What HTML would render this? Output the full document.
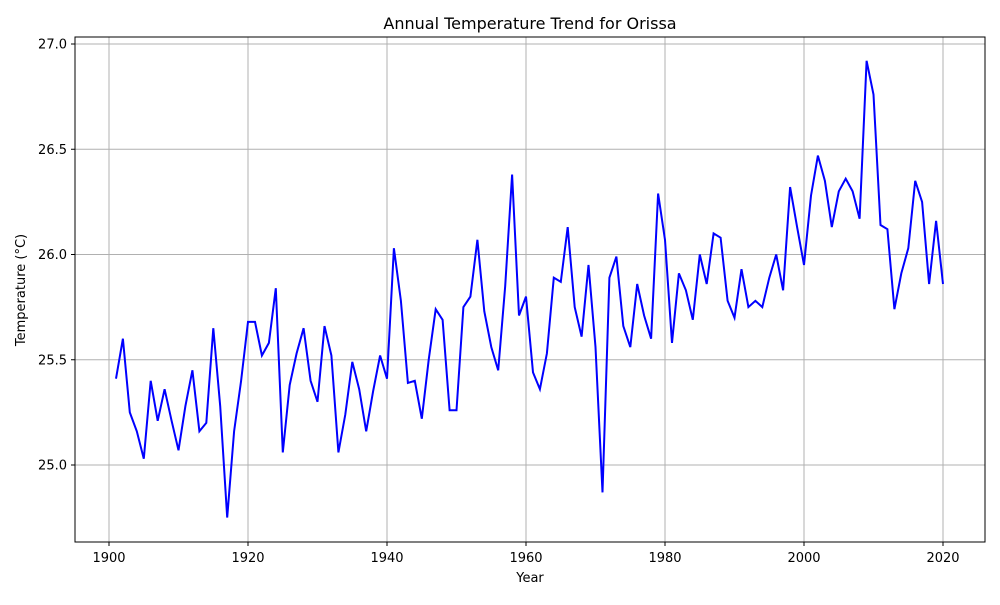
<!DOCTYPE html>
<html><head><meta charset="utf-8"><style>
body{margin:0;background:#fff;font-family:"Liberation Sans",sans-serif;}
svg text{font-family:"DejaVu Sans","Liberation Sans",sans-serif;fill:#000;}
</style></head><body>
<svg id="chart" width="1000" height="600">
<rect width="1000" height="600" fill="#fff"/>
<g id="grid"></g>
<g id="ticks"></g>
<polyline id="line" fill="none" stroke="#0000ff" stroke-width="2"/>
<rect x="75" y="37" width="910" height="505" fill="none" stroke="#000" stroke-width="1"/>
<text x="530" y="29" font-size="16" text-anchor="middle">Annual Temperature Trend for Orissa</text>
<text x="530" y="582" font-size="13" text-anchor="middle">Year</text>
<text x="25" y="290" font-size="13" text-anchor="middle" transform="rotate(-90 25 290)">Temperature (°C)</text>
</svg>
<script>
const startYear = 1901;
const temps = [25.41,25.60,25.25,25.16,25.03,25.40,25.21,25.36,25.21,25.07,
25.28,25.45,25.16,25.20,25.65,25.28,24.75,25.16,25.40,25.68,
25.68,25.52,25.58,25.84,25.06,25.38,25.53,25.65,25.40,25.30,
25.66,25.52,25.06,25.24,25.49,25.36,25.16,25.35,25.52,25.41,
26.03,25.78,25.39,25.40,25.22,25.50,25.74,25.69,25.26,25.26,
25.75,25.80,26.07,25.73,25.56,25.45,25.85,26.38,25.71,25.80,
25.44,25.36,25.53,25.89,25.87,26.13,25.75,25.61,25.95,25.56,
24.87,25.89,25.99,25.66,25.56,25.86,25.71,25.60,26.29,26.07,
25.58,25.91,25.83,25.69,26.00,25.86,26.10,26.08,25.78,25.70,
25.93,25.75,25.78,25.75,25.89,26.00,25.83,26.32,26.13,25.95,
26.28,26.47,26.35,26.13,26.30,26.36,26.30,26.17,26.92,26.76,
26.14,26.12,25.74,25.91,26.03,26.35,26.25,25.86,26.16,25.86];
const xTicks = [1900,1920,1940,1960,1980,2000,2020];
const yTicks = [25.0,25.5,26.0,26.5,27.0];
const yTickLabels = ["25.0","25.5","26.0","26.5","27.0"];

const x = yr => 109 + (yr - 1900) * (834/120);
const y = v => 465 - (v - 25) * 210.5;
const NS = "http://www.w3.org/2000/svg";
const grid = document.getElementById('grid'), ticks = document.getElementById('ticks');
function mk(tag, attrs, parent){const e=document.createElementNS(NS,tag);for(const k in attrs)e.setAttribute(k,attrs[k]);parent.appendChild(e);return e;}
xTicks.forEach(t=>{
  const g = mk('line',{x1:x(t),x2:x(t),y1:37,y2:542,stroke:'#b0b0b0','stroke-width':1},grid);
  
  
  const tk = mk('line',{x1:x(t),x2:x(t),y1:542,y2:546,stroke:'#000'},ticks);
  
  
  const tx = mk('text',{x:x(t),y:562,'font-size':13,'text-anchor':'middle'},ticks);
  tx.textContent = t;
  
  
});
yTicks.forEach((t,i)=>{
  const g = mk('line',{x1:75,x2:985,y1:y(t),y2:y(t),stroke:'#b0b0b0','stroke-width':1},grid);
  
  
  const tk = mk('line',{x1:71,x2:75,y1:y(t),y2:y(t),stroke:'#000'},ticks);
  
  
  const tx = mk('text',{x:67,y:y(t)+4.5,'font-size':13,'text-anchor':'end'},ticks);
  tx.textContent = yTickLabels[i];
  
  
});
document.getElementById('line').setAttribute('points', temps.map((v,i)=>x(startYear+i).toFixed(1)+','+y(v).toFixed(1)).join(' '));
</script>
</body></html>
